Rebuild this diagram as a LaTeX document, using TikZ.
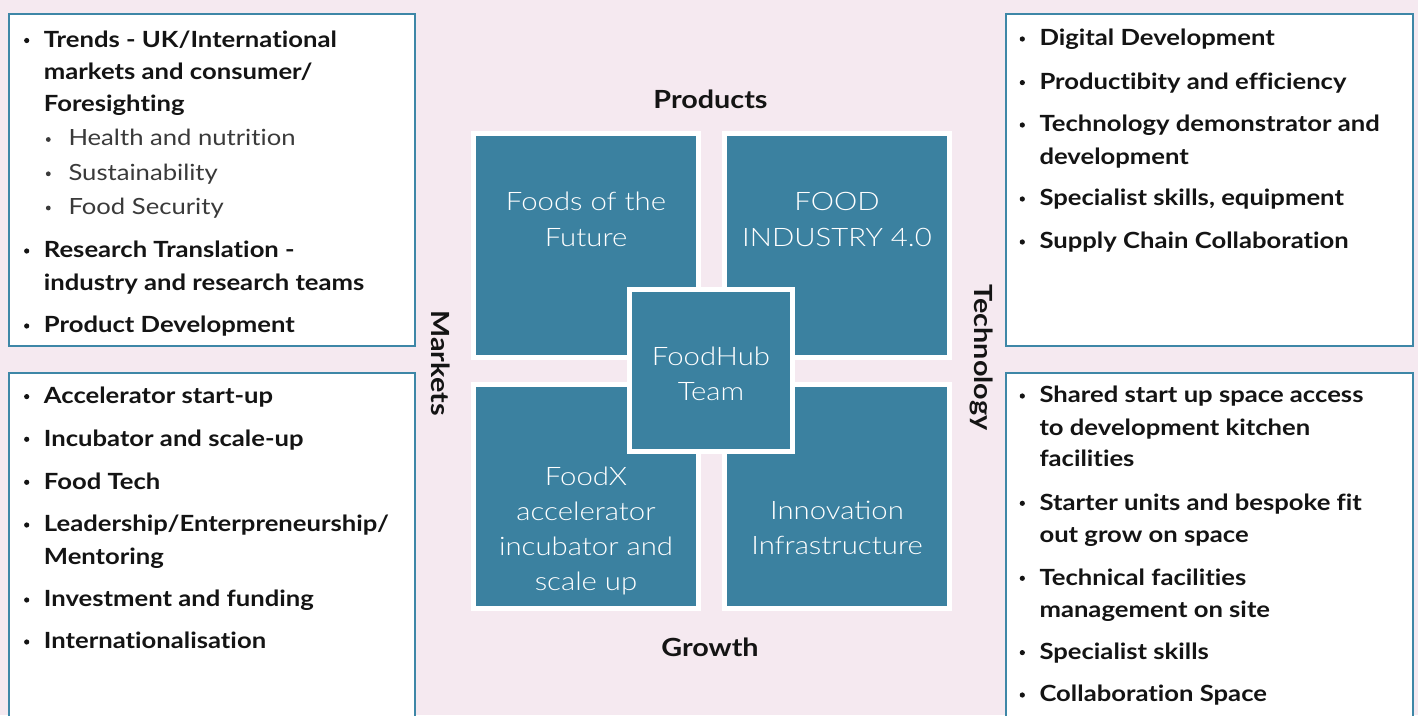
\documentclass[tikz,border=0pt]{standalone}
\usepackage{fontspec}
\setmainfont{Lato}[FakeStretch=1.15, Ligatures=NoCommon]
\newfontfamily\lightf{Lato Light}[FakeStretch=1.15]
\definecolor{bgc}{HTML}{F5E9F0}
\definecolor{tealc}{HTML}{3B81A0}
\definecolor{edgec}{HTML}{3E87A7}
\definecolor{txtc}{HTML}{141414}
\definecolor{subc}{HTML}{3A3A3A}
\tikzset{
  listbox/.style={draw=edgec, line width=2pt, fill=white},
  sq/.style={draw=white, line width=5pt, fill=tealc, minimum width=225pt, minimum height=224pt, inner sep=0pt},
  hub/.style={draw=white, line width=5pt, fill=tealc, minimum width=163pt, minimum height=162pt, inner sep=0pt},
  itm/.style={anchor=base west, inner sep=0pt, text=txtc, font=\bfseries\fontsize{22.3}{26}\selectfont},
  subitm/.style={anchor=base west, inner sep=0pt, text=subc, font=\fontsize{22.3}{26}\selectfont},
  sqtxt/.style={anchor=base, inner sep=0pt, text=white, font=\lightf\fontsize{25.5}{30}\selectfont},
  axlbl/.style={anchor=base, inner sep=0pt, text=txtc, font=\bfseries\fontsize{25}{30}\selectfont},
  dot/.style={fill=txtc, circle, inner sep=0pt, minimum size=5.2pt},
  sdot/.style={fill=subc, circle, inner sep=0pt, minimum size=4.8pt}
}
\begin{document}
\begin{tikzpicture}[x=1pt,y=-1pt]
\useasboundingbox (0,0) rectangle (1418,715);
\fill[bgc] (0,0) rectangle (1418,715);
\begin{scope}
\clip (0,0) rectangle (1418,715);
% list boxes
\draw[listbox] (9,14) rectangle (415,346);
\draw[listbox] (9,373) rectangle (415,740);
\draw[listbox] (1006,14) rectangle (1413,346);
\draw[listbox] (1006,373) rectangle (1413,740);

% top-left list
\node[dot] (tlb1) at (26.7,40.5) {};
\node[itm] (tl1) at (43.7,47.5) {Trends - UK/International};
\node[itm] (tl2) at (43.7,79.3) {markets and consumer/};
\node[itm] (tl3) at (43.7,111) {Foresighting};
\node[sdot] (tlsb1) at (48.3,139.5) {};
\node[subitm] (tls1) at (68.3,145.7) {Health and nutrition};
\node[sdot] (tlsb2) at (48.3,173.8) {};
\node[subitm] (tls2) at (68.3,180) {Sustainability};
\node[sdot] (tlsb3) at (48.3,208) {};
\node[subitm] (tls3) at (68.3,214.2) {Food Security};
\node[dot] (tlb2) at (26.7,251) {};
\node[itm] (tl4) at (43.7,257.7) {Research Translation -};
\node[itm] (tl5) at (43.7,290) {industry and research teams};
\node[dot] (tlb3) at (26.7,326) {};
\node[itm] (tl6) at (43.7,332.7) {Product Development};

% bottom-left list
\node[dot] (blb1) at (26.7,396.6) {};
\node[itm] (bl1) at (43.7,403.3) {Accelerator start-up};
\node[dot] (blb2) at (26.7,439.3) {};
\node[itm] (bl2) at (43.7,446) {Incubator and scale-up};
\node[dot] (blb3) at (26.7,482.3) {};
\node[itm] (bl3) at (43.7,489) {Food Tech};
\node[dot] (blb4) at (26.7,525) {};
\node[itm] (bl4) at (43.7,531.7) {Leadership/Enterpreneurship/};
\node[itm] (bl5) at (43.7,564) {Mentoring};
\node[dot] (blb5) at (26.7,600) {};
\node[itm] (bl6) at (43.7,606.7) {Investment and funding};
\node[dot] (blb6) at (26.7,642) {};
\node[itm] (bl7) at (43.7,648.7) {Internationalisation};

% top-right list
\node[dot] (trb1) at (1022.3,39) {};
\node[itm] (tr1) at (1039.3,45.7) {Digital Development};
\node[dot] (trb2) at (1022.3,82.6) {};
\node[itm] (tr2) at (1039.3,89.3) {Productibity and efficiency};
\node[dot] (trb3) at (1022.3,125) {};
\node[itm] (tr3) at (1039.3,131.7) {Technology demonstrator and};
\node[itm] (tr4) at (1039.3,164) {development};
\node[dot] (trb4) at (1022.3,199) {};
\node[itm] (tr5) at (1039.3,205.7) {Specialist skills, equipment};
\node[dot] (trb5) at (1022.3,242) {};
\node[itm] (tr6) at (1039.3,248.7) {Supply Chain Collaboration};

% bottom-right list
\node[dot] (brb1) at (1022.3,396) {};
\node[itm] (br1) at (1039.3,402.7) {Shared start up space access};
\node[itm] (br2) at (1039.3,435) {to development kitchen};
\node[itm] (br3) at (1039.3,466.7) {facilities};
\node[dot] (brb2) at (1022.3,503.3) {};
\node[itm] (br4) at (1039.3,510) {Starter units and bespoke fit};
\node[itm] (br5) at (1039.3,542.3) {out grow on space};
\node[dot] (brb3) at (1022.3,578.3) {};
\node[itm] (br6) at (1039.3,585) {Technical facilities};
\node[itm] (br7) at (1039.3,617.3) {management on site};
\node[dot] (brb4) at (1022.3,652.6) {};
\node[itm] (br8) at (1039.3,659.3) {Specialist skills};
\node[dot] (brb5) at (1022.3,695) {};
\node[itm] (br9) at (1039.3,701.7) {Collaboration Space};
\end{scope}

% central squares
\node[sq] (fof) at (586,245.5) {};
\node[sq] (ind) at (837,245.5) {};
\node[sq] (fx) at (586,496.5) {};
\node[sq] (inn) at (837,496.5) {};
\node[hub] (hub) at (711,370.5) {};

\node[sqtxt] (fof1) at (586,210.7) {Foods of the};
\node[sqtxt] (fof2) at (586,246.2) {Future};
\node[sqtxt] (ind1) at (837,210.7) {FOOD};
\node[sqtxt] (ind2) at (837,246.2) {INDUSTRY 4.0};
\node[sqtxt] (hub1) at (711,365.7) {FoodHub};
\node[sqtxt] (hub2) at (711,400.7) {Team};
\node[sqtxt] (fx1) at (586,485) {FoodX};
\node[sqtxt] (fx2) at (586,520.2) {accelerator};
\node[sqtxt] (fx3) at (586,555.4) {incubator and};
\node[sqtxt] (fx4) at (586,590.6) {scale up};
\node[sqtxt] (inn1) at (837,519) {Innovation};
\node[sqtxt] (inn2) at (837,554) {Infrastructure};

% axis labels
\node[axlbl] (prod) at (710.5,108.3) {Products};
\node[axlbl] (grow) at (710,656) {Growth};
\node[axlbl, rotate=-90] (mkt) at (431,363) {Markets};
\node[axlbl, rotate=-90] (tech) at (974,357.5) {Technology};
\end{tikzpicture}
\end{document}
